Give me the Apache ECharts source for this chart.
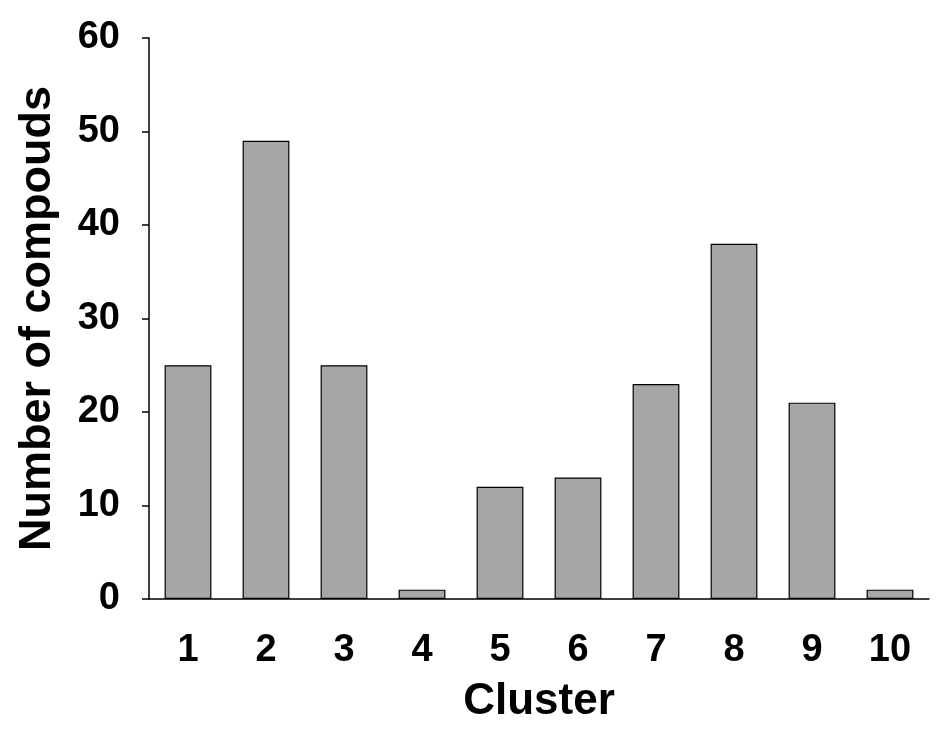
<!DOCTYPE html>
<html>
<head>
<meta charset="utf-8">
<script src="https://cdn.jsdelivr.net/npm/echarts@6/dist/echarts.min.js"></script>
<style>
  html, body { margin: 0; padding: 0; background: #fff; }
  #chart { width: 945px; height: 744px; }
</style>
</head>
<body>
<div id="chart"></div>
<script>
  // clusters and how many compounds fall in each
  var clusters = ['1', '2', '3', '4', '5', '6', '7', '8', '9', '10'];
  var compoundCounts = [25, 49, 25, 1, 12, 13, 23, 38, 21, 1];
  var yTicks = [0, 10, 20, 30, 40, 50, 60];

  var font = 'Liberation Sans, Arial, sans-serif';
  var myChart = echarts.init(document.getElementById('chart'));
  myChart.setOption({
    animation: false,
    grid: {
      left: 149,
      right: 16,
      top: 38,
      bottom: 145,
      containLabel: false
    },
    xAxis: {
      type: 'category',
      data: clusters,
      name: 'Cluster',
      nameLocation: 'middle',
      nameGap: 81,
      nameTextStyle: { fontFamily: font, fontWeight: 'bold', fontSize: 44, color: '#000' },
      axisLine: { lineStyle: { color: '#000', width: 1.5 } },
      axisTick: { alignWithLabel: true, length: 8, lineStyle: { color: '#000', width: 1.5 } },
      axisLabel: { fontFamily: font, fontWeight: 'bold', fontSize: 38, color: '#000', margin: 33 }
    },
    yAxis: {
      type: 'value',
      min: yTicks[0],
      max: yTicks[yTicks.length - 1],
      interval: 10,
      name: 'Number of compouds',
      nameLocation: 'middle',
      nameGap: 89,
      nameTextStyle: { fontFamily: font, fontWeight: 'bold', fontSize: 45, color: '#000' },
      splitLine: { show: false },
      axisLine: { show: true, lineStyle: { color: '#000', width: 1.5 } },
      axisTick: { show: true, length: 7, lineStyle: { color: '#000', width: 1.5 } },
      axisLabel: { fontFamily: font, fontWeight: 'bold', fontSize: 38, color: '#000', margin: 29 }
    },
    series: [{
      type: 'bar',
      data: compoundCounts,
      barWidth: '60%',
      itemStyle: { color: '#a6a6a6', borderColor: '#000', borderWidth: 1.2 }
    }]
  });
</script>
</body>
</html>
